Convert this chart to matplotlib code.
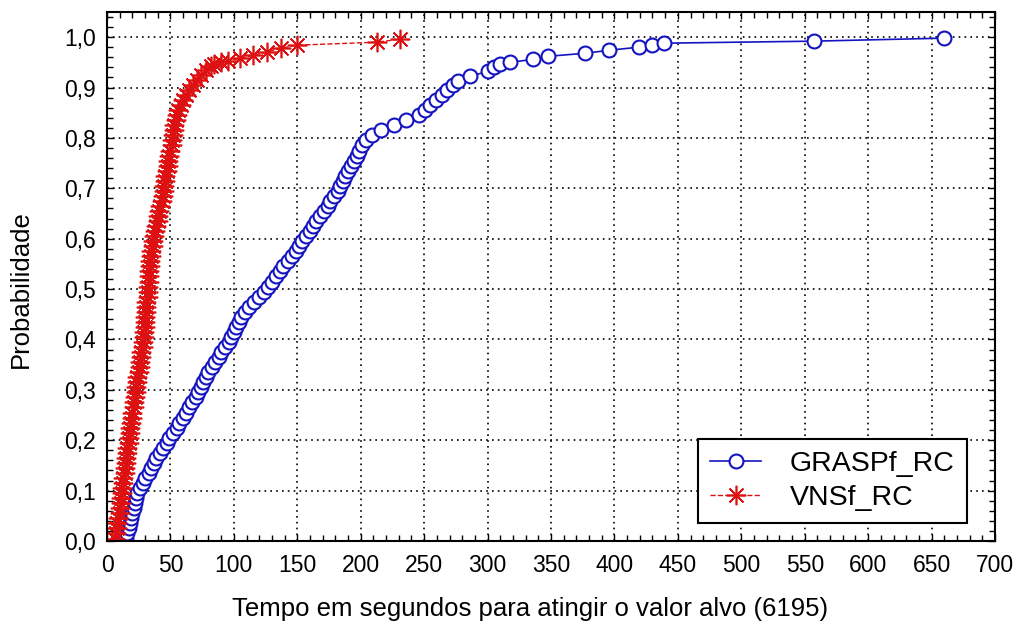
import matplotlib
matplotlib.use("Agg")
import matplotlib.pyplot as plt
from matplotlib.ticker import MultipleLocator, FuncFormatter

plt.rcParams['font.family'] = ['Liberation Sans', 'DejaVu Sans']

# tempo (s) e probabilidade acumulada
grasp_time = [15, 16, 17, 18, 19, 20, 21, 22, 23, 24,
              26, 28, 30, 33, 35, 37, 39, 42, 44, 47,
              49, 52, 55, 57, 60, 62, 65, 67, 70, 72,
              74, 76, 78, 80, 83, 85, 88, 90, 93, 96,
              98, 100, 102, 104, 106, 109, 112, 116, 120, 124,
              127, 130, 133, 136, 139, 143, 146, 149, 151, 154,
              157, 160, 162, 165, 168, 171, 174, 176, 179, 182,
              184, 186, 188, 190, 192, 195, 197, 199, 201, 204,
              209, 216, 226, 236, 246, 251, 255, 259, 264, 268,
              273, 277, 286, 300, 305, 310, 318, 336, 348, 377,
              396, 419, 430, 439, 557, 660]
grasp_prob = [0.005, 0.015, 0.025, 0.035, 0.045, 0.055, 0.065, 0.075, 0.085, 0.095,
              0.105, 0.115, 0.125, 0.135, 0.145, 0.155, 0.165, 0.175, 0.185, 0.195,
              0.205, 0.215, 0.225, 0.235, 0.245, 0.255, 0.265, 0.275, 0.285, 0.295,
              0.305, 0.315, 0.325, 0.335, 0.345, 0.355, 0.365, 0.375, 0.385, 0.395,
              0.405, 0.415, 0.425, 0.435, 0.445, 0.455, 0.465, 0.475, 0.485, 0.495,
              0.505, 0.515, 0.525, 0.535, 0.545, 0.555, 0.565, 0.575, 0.585, 0.595,
              0.605, 0.615, 0.625, 0.635, 0.645, 0.655, 0.665, 0.675, 0.685, 0.695,
              0.705, 0.715, 0.725, 0.735, 0.745, 0.755, 0.765, 0.775, 0.785, 0.795,
              0.805, 0.815, 0.825, 0.835, 0.845, 0.855, 0.865, 0.875, 0.885, 0.895,
              0.905, 0.912, 0.922, 0.932, 0.940, 0.946, 0.950, 0.956, 0.962, 0.968,
              0.974, 0.980, 0.984, 0.988, 0.992, 0.998]

vns_time = [6, 7, 8, 8, 9, 10, 10, 11, 11, 12,
            12, 13, 13, 14, 14, 15, 15, 16, 16, 17,
            17, 18, 18, 19, 20, 20, 21, 21, 22, 23,
            23, 24, 24, 25, 26, 26, 27, 27, 28, 28,
            29, 29, 30, 30, 30, 31, 31, 31, 32, 32,
            32, 33, 33, 33, 34, 34, 35, 35, 36, 36,
            37, 38, 39, 40, 40, 41, 42, 43, 44, 45,
            45, 46, 46, 47, 48, 48, 49, 50, 51, 51,
            52, 53, 53, 54, 55, 56, 58, 60, 62, 65,
            68, 71, 74, 78, 82, 84, 90, 95, 105, 115,
            126, 137, 150, 213, 231]
vns_prob = [0.005, 0.015, 0.025, 0.035, 0.045, 0.055, 0.065, 0.075, 0.085, 0.095,
            0.105, 0.115, 0.125, 0.135, 0.145, 0.155, 0.165, 0.175, 0.185, 0.195,
            0.205, 0.215, 0.225, 0.235, 0.245, 0.255, 0.265, 0.275, 0.285, 0.295,
            0.305, 0.315, 0.325, 0.335, 0.345, 0.355, 0.365, 0.375, 0.385, 0.395,
            0.405, 0.415, 0.425, 0.435, 0.445, 0.455, 0.465, 0.475, 0.485, 0.495,
            0.505, 0.515, 0.525, 0.535, 0.545, 0.555, 0.565, 0.575, 0.585, 0.595,
            0.605, 0.615, 0.625, 0.635, 0.645, 0.655, 0.665, 0.675, 0.685, 0.695,
            0.705, 0.715, 0.725, 0.735, 0.745, 0.755, 0.765, 0.775, 0.785, 0.795,
            0.805, 0.815, 0.825, 0.835, 0.845, 0.855, 0.865, 0.875, 0.885, 0.895,
            0.905, 0.915, 0.925, 0.935, 0.942, 0.946, 0.950, 0.952, 0.958, 0.964,
            0.970, 0.978, 0.984, 0.990, 0.996]

BLUE = '#1414c0'
RED = '#dd1111'

fig = plt.figure(figsize=(10.22, 6.28), dpi=100)
ax = fig.add_axes([0.1047, 0.1385, 0.8689, 0.8425])

ax.plot(grasp_time, grasp_prob, '-', color=BLUE, lw=1.2,
        marker='o', markersize=10, markerfacecolor='white',
        markeredgecolor=BLUE, markeredgewidth=1.5, label='GRASPf_RC')
ax.plot(vns_time, vns_prob, '--', color=RED, lw=1.0,
        marker=(8, 2, 0), markersize=14, markeredgecolor=RED,
        markeredgewidth=1.2, label='VNSf_RC')

ax.set_xlim(0, 700)
ax.set_ylim(0, 1.05)
ax.xaxis.set_major_locator(MultipleLocator(50))
ax.xaxis.set_minor_locator(MultipleLocator(10))
ax.yaxis.set_major_locator(MultipleLocator(0.1))
ax.yaxis.set_minor_locator(MultipleLocator(0.02))
ax.yaxis.set_major_formatter(FuncFormatter(lambda v, p: ('%.1f' % v).replace('.', ',')))

ax.tick_params(which='both', direction='in', top=True, right=True,
               width=1.0, labelsize=16.5)
ax.tick_params(which='major', length=5)
ax.tick_params(which='minor', length=4)
ax.tick_params(axis='y', pad=8)
ax.tick_params(axis='x', pad=9)

for s in ax.spines.values():
    s.set_linewidth(1.5)

ax.grid(True, which='major', color='black', linestyle=(0, (1, 2.5)), linewidth=1.2)

ax.set_xlabel('Tempo em segundos para atingir o valor alvo (6195)', fontsize=18.5)
ax.set_ylabel('Probabilidade', fontsize=18.5)
ax.xaxis.set_label_coords(0.476, -0.106)
ax.yaxis.set_label_coords(-0.083, 0.476)

leg = ax.legend(loc='lower right', bbox_to_anchor=(0.968, 0.034), fontsize=20.5,
                fancybox=False, framealpha=1, edgecolor='black',
                handlelength=1.8, handletextpad=1.0, labelspacing=0.3,
                borderpad=0.42, borderaxespad=0)
leg.get_frame().set_linewidth(1.5)

fig.savefig('out.png', dpi=100)
